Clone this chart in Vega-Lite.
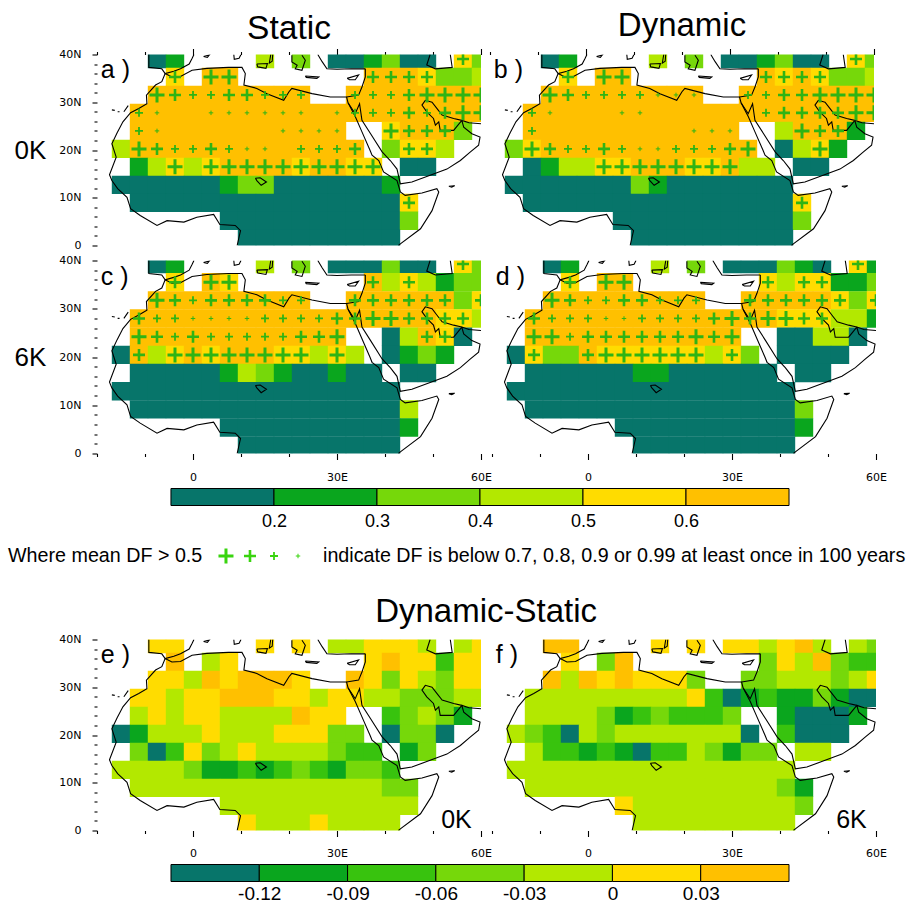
{"$schema":"https://vega.github.io/schema/vega-lite/v6.json","padding":{"left":8,"top":9.5,"right":0,"bottom":0},"background":"white",
"config":{"view":{"stroke":null},"font":"Liberation Sans","axis":{"labelFont":"DejaVu Sans","labelFontSize":11,"labelColor":"black","tickColor":"black","tickWidth":1.1,"domain":false,"grid":false,"title":null,"labelOverlap":false,"labelBound":false,"labelFlush":false,"titleFont":"Liberation Sans"},"title":{"font":"Liberation Sans","fontWeight":"normal","fontSize":33,"color":"black","anchor":"middle"},"text":{"font":"Liberation Sans","fontSize":25,"color":"black"}},
"datasets":{
"grid":[
{"lon":-7.5,"lat":39.06,"a":0.15,"b":0.15,"c":0.15,"d":0.15,"e":0.015,"f":0.045},
{"lon":-3.75,"lat":39.06,"a":0.25,"b":0.25,"c":0.25,"d":0.25,"e":0.015,"f":0.045},
{"lon":15,"lat":39.06,"a":0.45,"b":0.45,"c":0.45,"d":0.45,"e":0.015,"f":0.015},
{"lon":22.5,"lat":39.06,"a":0.35,"b":0.35,"c":0.35,"d":0.35,"e":0.015,"f":0.015},
{"lon":30,"lat":39.06,"a":0.15,"b":0.15,"c":0.15,"d":0.15,"e":-0.015,"f":0.015},
{"lon":33.75,"lat":39.06,"a":0.15,"b":0.15,"c":0.15,"d":0.15,"e":-0.015,"f":0.015},
{"lon":37.5,"lat":39.06,"a":0.25,"b":0.25,"c":0.15,"d":0.15,"e":0.015,"f":-0.015},
{"lon":41.25,"lat":39.06,"a":0.35,"b":0.35,"c":0.35,"d":0.35,"e":0.015,"f":0.015},
{"lon":45,"lat":39.06,"a":0.15,"b":0.15,"c":0.15,"d":0.25,"e":0.015,"f":0.045},
{"lon":48.75,"lat":39.06,"a":0.15,"b":0.15,"c":0.15,"d":0.15,"e":-0.015,"f":-0.015},
{"lon":56.25,"lat":39.06,"a":0.55,"b":0.55,"c":0.55,"d":0.55,"pa":2,"pb":2,"pc":2,"pd":2,"e":-0.015,"f":-0.015},
{"lon":60,"lat":39.06,"a":0.35,"b":0.35,"c":0.35,"d":0.25,"e":0.015,"f":-0.045},
{"lon":-3.75,"lat":35.3,"a":0.55,"b":0.55,"c":0.55,"d":0.55,"pa":2,"pb":2,"pc":2,"pd":2,"e":0.045,"f":0.015},
{"lon":3.75,"lat":35.3,"a":0.65,"b":0.65,"c":0.65,"d":0.65,"pa":1,"pb":1,"pc":1,"pd":1,"e":-0.015,"f":-0.045},
{"lon":7.5,"lat":35.3,"a":0.65,"b":0.65,"c":0.55,"d":0.65,"pa":1,"pb":1,"pc":1,"pd":1,"e":0.015,"f":0.045},
{"lon":37.5,"lat":35.3,"a":0.65,"b":0.65,"c":0.65,"d":0.55,"pa":2,"pb":2,"pc":2,"pd":2,"e":0.015,"f":-0.045},
{"lon":41.25,"lat":35.3,"a":0.65,"b":0.55,"c":0.45,"d":0.45,"pa":2,"pb":2,"e":0.045,"f":0.015},
{"lon":45,"lat":35.3,"a":0.65,"b":0.65,"c":0.55,"d":0.55,"pa":2,"pb":2,"pc":2,"pd":2,"e":0.015,"f":-0.015},
{"lon":48.75,"lat":35.3,"a":0.55,"b":0.55,"c":0.45,"d":0.55,"pa":2,"pb":2,"pd":2,"e":0.015,"f":0.045},
{"lon":52.5,"lat":35.3,"a":0.35,"b":0.35,"c":0.25,"d":0.25,"e":-0.075,"f":-0.045},
{"lon":56.25,"lat":35.3,"a":0.35,"b":0.35,"c":0.35,"d":0.25,"e":0.015,"f":-0.075},
{"lon":60,"lat":35.3,"a":0.45,"b":0.45,"c":0.35,"d":0.35,"e":0.015,"f":-0.075},
{"lon":-7.5,"lat":31.53,"a":0.65,"b":0.65,"c":0.65,"d":0.65,"pa":1,"pb":1,"pc":1,"pd":1,"e":0.015,"f":0.045},
{"lon":-3.75,"lat":31.53,"a":0.65,"b":0.65,"c":0.65,"d":0.65,"pa":2,"pb":2,"pc":2,"pd":2,"e":0.015,"f":-0.015},
{"lon":0,"lat":31.53,"a":0.65,"b":0.65,"c":0.65,"d":0.65,"pa":3,"pb":3,"pc":3,"pd":3,"e":-0.015,"f":0.045},
{"lon":3.75,"lat":31.53,"a":0.65,"b":0.65,"c":0.65,"d":0.65,"pa":3,"pb":3,"pc":2,"pd":3,"e":0.045,"f":0.015},
{"lon":7.5,"lat":31.53,"a":0.65,"b":0.65,"c":0.65,"d":0.65,"pa":2,"pb":3,"pc":2,"pd":2,"e":0.015,"f":0.045},
{"lon":11.25,"lat":31.53,"a":0.65,"b":0.65,"c":0.65,"d":0.65,"pa":2,"pb":3,"pc":2,"pd":2,"e":0.045,"f":0.015},
{"lon":15,"lat":31.53,"a":0.65,"b":0.65,"c":0.65,"d":0.65,"pa":3,"pb":4,"pc":2,"pd":3,"e":0.045,"f":0.015},
{"lon":18.75,"lat":31.53,"a":0.65,"b":0.65,"c":0.65,"d":0.65,"pa":3,"pb":4,"pc":3,"pd":3,"e":0.045,"f":0.015},
{"lon":22.5,"lat":31.53,"a":0.65,"b":0.65,"c":0.65,"d":0.65,"pa":3,"pb":4,"pc":3,"pd":3,"e":0.015,"f":-0.045},
{"lon":33.75,"lat":31.53,"a":0.65,"b":0.65,"c":0.65,"d":0.65,"pa":3,"pb":3,"pc":2,"pd":2,"e":0.045,"f":-0.045},
{"lon":37.5,"lat":31.53,"a":0.65,"b":0.65,"c":0.65,"d":0.65,"pa":3,"pb":3,"pc":2,"pd":2,"e":0.015,"f":-0.045},
{"lon":41.25,"lat":31.53,"a":0.65,"b":0.65,"c":0.65,"d":0.65,"pa":3,"pb":2,"pc":2,"pd":2,"e":-0.045,"f":-0.015},
{"lon":45,"lat":31.53,"a":0.65,"b":0.65,"c":0.65,"d":0.65,"pa":2,"pb":2,"pc":2,"pd":2,"e":0.015,"f":-0.015},
{"lon":48.75,"lat":31.53,"a":0.65,"b":0.65,"c":0.65,"d":0.65,"pa":1,"pb":1,"pc":2,"pd":2,"e":-0.015,"f":-0.015},
{"lon":52.5,"lat":31.53,"a":0.65,"b":0.65,"c":0.65,"d":0.55,"pa":1,"pb":1,"pc":2,"pd":2,"e":-0.045,"f":-0.045},
{"lon":56.25,"lat":31.53,"a":0.65,"b":0.65,"c":0.35,"d":0.35,"pa":1,"pb":1,"e":0.015,"f":-0.015},
{"lon":60,"lat":31.53,"a":0.65,"b":0.65,"c":0.55,"d":0.55,"pa":1,"pb":1,"pc":2,"pd":2,"e":0.015,"f":0.015},
{"lon":-11.25,"lat":27.78,"a":0.65,"b":0.65,"c":0.65,"d":0.65,"pa":3,"pb":3,"pc":2,"pd":2,"e":0.015,"f":-0.015},
{"lon":-7.5,"lat":27.78,"a":0.65,"b":0.65,"c":0.65,"d":0.65,"pa":4,"pb":4,"pc":3,"pd":3,"e":0.015,"f":-0.015},
{"lon":-3.75,"lat":27.78,"a":0.65,"b":0.65,"c":0.65,"d":0.65,"pc":3,"pd":3,"e":-0.015,"f":-0.015},
{"lon":0,"lat":27.78,"a":0.65,"b":0.65,"c":0.65,"d":0.65,"pc":4,"pd":3,"e":0.015,"f":-0.015},
{"lon":3.75,"lat":27.78,"a":0.65,"b":0.65,"c":0.65,"d":0.65,"pa":4,"pc":4,"pd":4,"e":0.015,"f":-0.015},
{"lon":7.5,"lat":27.78,"a":0.65,"b":0.65,"c":0.65,"d":0.65,"pa":4,"pb":4,"pc":4,"pd":4,"e":0.045,"f":-0.015},
{"lon":11.25,"lat":27.78,"a":0.65,"b":0.65,"c":0.65,"d":0.65,"pa":4,"pb":4,"pc":4,"pd":3,"e":0.045,"f":-0.015},
{"lon":15,"lat":27.78,"a":0.65,"b":0.65,"c":0.65,"d":0.65,"pa":4,"pc":3,"pd":3,"e":0.045,"f":-0.015},
{"lon":18.75,"lat":27.78,"a":0.65,"b":0.65,"c":0.65,"d":0.65,"pa":4,"pc":3,"pd":3,"e":0.015,"f":-0.015},
{"lon":22.5,"lat":27.78,"a":0.65,"b":0.65,"c":0.65,"d":0.65,"pa":4,"pc":3,"pd":3,"e":0.015,"f":0.015},
{"lon":26.25,"lat":27.78,"a":0.65,"b":0.65,"c":0.65,"d":0.65,"pc":3,"pd":2,"e":-0.015,"f":-0.075},
{"lon":30,"lat":27.78,"a":0.65,"b":0.65,"c":0.65,"d":0.65,"pa":4,"pc":2,"pd":1,"e":0.015,"f":-0.135},
{"lon":33.75,"lat":27.78,"a":0.65,"b":0.65,"c":0.65,"d":0.65,"pa":3,"pc":2,"pd":2,"e":0.015,"f":-0.105},
{"lon":37.5,"lat":27.78,"a":0.65,"b":0.65,"c":0.65,"d":0.65,"pa":3,"pb":3,"pc":1,"pd":1,"e":-0.015,"f":-0.075},
{"lon":41.25,"lat":27.78,"a":0.65,"b":0.65,"c":0.65,"d":0.55,"pa":3,"pb":2,"pc":1,"pd":1,"e":-0.015,"f":-0.105},
{"lon":45,"lat":27.78,"a":0.65,"b":0.65,"c":0.65,"d":0.55,"pa":2,"pb":2,"pc":2,"pd":2,"e":-0.045,"f":-0.105},
{"lon":48.75,"lat":27.78,"a":0.65,"b":0.65,"c":0.65,"d":0.55,"pa":3,"pb":2,"pc":2,"pd":2,"e":-0.045,"f":-0.045},
{"lon":52.5,"lat":27.78,"a":0.65,"b":0.65,"c":0.55,"d":0.45,"pa":2,"pb":2,"pc":2,"e":-0.045,"f":-0.105},
{"lon":56.25,"lat":27.78,"a":0.65,"b":0.65,"c":0.55,"d":0.45,"pa":1,"pb":1,"pc":2,"e":-0.015,"f":-0.135},
{"lon":60,"lat":27.78,"a":0.65,"b":0.65,"c":0.45,"d":0.25,"pa":1,"pb":1,"e":-0.015,"f":-0.135},
{"lon":-11.25,"lat":24,"a":0.65,"b":0.65,"c":0.65,"d":0.65,"pa":3,"pb":3,"pc":1,"pd":1,"e":-0.015,"f":-0.015},
{"lon":-7.5,"lat":24,"a":0.65,"b":0.65,"c":0.65,"d":0.65,"pa":4,"pc":2,"pd":1,"e":0.015,"f":-0.015},
{"lon":-3.75,"lat":24,"a":0.65,"b":0.65,"c":0.65,"d":0.65,"pc":3,"pd":3,"e":-0.015,"f":-0.015},
{"lon":0,"lat":24,"a":0.65,"b":0.65,"c":0.65,"d":0.65,"pc":2,"pd":2,"e":0.015,"f":-0.015},
{"lon":3.75,"lat":24,"a":0.65,"b":0.65,"c":0.65,"d":0.65,"pc":3,"pd":2,"e":0.015,"f":-0.045},
{"lon":7.5,"lat":24,"a":0.65,"b":0.65,"c":0.65,"d":0.65,"pc":3,"pd":2,"e":-0.015,"f":-0.105},
{"lon":11.25,"lat":24,"a":0.65,"b":0.65,"c":0.65,"d":0.65,"pc":3,"pd":2,"e":-0.015,"f":-0.075},
{"lon":15,"lat":24,"a":0.65,"b":0.65,"c":0.65,"d":0.65,"pc":3,"pd":2,"e":-0.015,"f":-0.045},
{"lon":18.75,"lat":24,"a":0.65,"b":0.65,"c":0.65,"d":0.65,"pa":4,"pc":3,"pd":2,"e":-0.015,"f":-0.075},
{"lon":22.5,"lat":24,"a":0.65,"b":0.65,"c":0.65,"d":0.65,"pa":4,"pb":4,"pc":2,"pd":1,"e":0.045,"f":-0.075},
{"lon":26.25,"lat":24,"a":0.65,"b":0.65,"c":0.65,"d":0.65,"pa":4,"pb":4,"pc":2,"pd":2,"e":0.015,"f":-0.075},
{"lon":30,"lat":24,"a":0.65,"b":0.65,"c":0.65,"d":0.65,"pa":4,"pb":4,"pc":1,"pd":1,"e":0.015,"f":-0.045},
{"lon":41.25,"lat":24,"a":0.55,"b":0.45,"c":0.15,"d":0.15,"pa":1,"e":-0.075,"f":-0.105},
{"lon":45,"lat":24,"a":0.65,"b":0.65,"c":0.45,"d":0.15,"pa":2,"pb":1,"e":-0.045,"f":-0.135},
{"lon":48.75,"lat":24,"a":0.65,"b":0.65,"c":0.65,"d":0.45,"pa":2,"pb":2,"pc":2,"e":-0.015,"f":-0.135},
{"lon":52.5,"lat":24,"a":0.65,"b":0.65,"c":0.55,"d":0.45,"pa":2,"pb":2,"pc":2,"e":-0.045,"f":-0.135},
{"lon":56.25,"lat":24,"a":0.35,"b":0.25,"c":0.15,"d":0.15,"e":-0.105,"f":-0.105},
{"lon":-15,"lat":20.23,"a":0.45,"b":0.35,"c":0.15,"d":0.15,"e":-0.135,"f":-0.015},
{"lon":-11.25,"lat":20.23,"a":0.65,"b":0.55,"c":0.65,"d":0.55,"pa":1,"pb":1,"pc":2,"pd":2,"e":-0.105,"f":-0.045},
{"lon":-7.5,"lat":20.23,"a":0.65,"b":0.65,"c":0.45,"d":0.35,"pa":2,"pb":2,"e":-0.015,"f":-0.075},
{"lon":-3.75,"lat":20.23,"a":0.65,"b":0.65,"c":0.55,"d":0.35,"pa":3,"pb":3,"pc":1,"e":-0.015,"f":-0.135},
{"lon":0,"lat":20.23,"a":0.65,"b":0.65,"c":0.65,"d":0.65,"pa":3,"pb":3,"pc":1,"pd":2,"e":-0.015,"f":-0.015},
{"lon":3.75,"lat":20.23,"a":0.65,"b":0.65,"c":0.55,"d":0.55,"pa":2,"pb":2,"pc":1,"pd":1,"e":0.015,"f":-0.045},
{"lon":7.5,"lat":20.23,"a":0.65,"b":0.65,"c":0.65,"d":0.55,"pa":3,"pb":3,"pc":1,"pd":1,"e":-0.015,"f":-0.015},
{"lon":11.25,"lat":20.23,"a":0.65,"b":0.65,"c":0.65,"d":0.55,"pa":4,"pb":4,"pc":1,"pd":1,"e":-0.015,"f":-0.015},
{"lon":15,"lat":20.23,"a":0.65,"b":0.65,"c":0.65,"d":0.55,"pa":4,"pb":4,"pc":1,"pd":1,"e":-0.015,"f":-0.015},
{"lon":18.75,"lat":20.23,"a":0.65,"b":0.65,"c":0.55,"d":0.55,"pb":3,"pc":1,"pd":1,"e":0.015,"f":-0.015},
{"lon":22.5,"lat":20.23,"a":0.65,"b":0.65,"c":0.55,"d":0.55,"pa":3,"pb":3,"pc":1,"pd":1,"e":0.015,"f":-0.015},
{"lon":26.25,"lat":20.23,"a":0.65,"b":0.65,"c":0.45,"d":0.45,"pa":3,"pb":3,"e":0.015,"f":-0.015},
{"lon":30,"lat":20.23,"a":0.65,"b":0.65,"c":0.55,"d":0.55,"pa":3,"pb":2,"pc":1,"pd":2,"e":-0.045,"f":-0.015},
{"lon":33.75,"lat":20.23,"a":0.65,"b":0.65,"c":0.45,"d":0.35,"pa":2,"pb":1,"e":-0.045,"f":-0.135},
{"lon":41.25,"lat":20.23,"a":0.35,"b":0.15,"c":0.15,"d":0.15,"e":-0.135,"f":-0.075},
{"lon":45,"lat":20.23,"a":0.55,"b":0.45,"c":0.25,"d":0.15,"pa":2,"e":-0.045,"f":-0.135},
{"lon":48.75,"lat":20.23,"a":0.55,"b":0.55,"c":0.35,"d":0.15,"pa":2,"pb":1,"e":-0.045,"f":-0.135},
{"lon":52.5,"lat":20.23,"a":0.45,"b":0.25,"c":0.25,"d":0.15,"e":-0.135,"f":-0.135},
{"lon":-11.25,"lat":16.47,"a":0.25,"b":0.15,"c":0.15,"d":0.15,"e":-0.045,"f":-0.015},
{"lon":-7.5,"lat":16.47,"a":0.45,"b":0.25,"c":0.15,"d":0.15,"e":-0.135,"f":-0.075},
{"lon":-3.75,"lat":16.47,"a":0.55,"b":0.45,"c":0.15,"d":0.15,"pa":1,"e":-0.075,"f":-0.075},
{"lon":0,"lat":16.47,"a":0.45,"b":0.45,"c":0.15,"d":0.15,"e":0.015,"f":-0.105},
{"lon":3.75,"lat":16.47,"a":0.55,"b":0.55,"c":0.15,"d":0.15,"pa":1,"pb":1,"e":-0.045,"f":-0.075},
{"lon":7.5,"lat":16.47,"a":0.65,"b":0.55,"c":0.25,"d":0.15,"pa":1,"pb":1,"e":-0.015,"f":-0.105},
{"lon":11.25,"lat":16.47,"a":0.65,"b":0.65,"c":0.45,"d":0.25,"pa":1,"pb":1,"e":0.015,"f":-0.135},
{"lon":15,"lat":16.47,"a":0.65,"b":0.65,"c":0.35,"d":0.25,"pa":1,"pb":1,"e":-0.015,"f":-0.075},
{"lon":18.75,"lat":16.47,"a":0.65,"b":0.65,"c":0.25,"d":0.15,"pa":1,"pb":1,"e":-0.015,"f":-0.075},
{"lon":22.5,"lat":16.47,"a":0.55,"b":0.55,"c":0.15,"d":0.15,"pa":1,"pb":1,"e":-0.015,"f":-0.015},
{"lon":26.25,"lat":16.47,"a":0.65,"b":0.55,"c":0.15,"d":0.15,"pa":1,"pb":1,"e":-0.015,"f":-0.045},
{"lon":30,"lat":16.47,"a":0.65,"b":0.65,"c":0.25,"d":0.15,"pa":1,"pb":1,"e":-0.045,"f":-0.105},
{"lon":33.75,"lat":16.47,"a":0.55,"b":0.45,"c":0.15,"d":0.15,"pa":1,"e":-0.075,"f":-0.045},
{"lon":37.5,"lat":16.47,"a":0.55,"b":0.45,"c":0.15,"d":0.15,"pa":1,"e":-0.075,"f":-0.045},
{"lon":45,"lat":16.47,"a":0.15,"b":0.15,"c":0.15,"d":0.15,"e":-0.105,"f":-0.015},
{"lon":48.75,"lat":16.47,"a":0.15,"b":0.15,"c":0.15,"d":0.15,"e":-0.045,"f":-0.015},
{"lon":-15,"lat":12.7,"a":0.15,"b":0.15,"c":0.15,"d":0.15,"e":-0.015,"f":-0.015},
{"lon":-11.25,"lat":12.7,"a":0.15,"b":0.15,"c":0.15,"d":0.15,"e":-0.015,"f":-0.015},
{"lon":-7.5,"lat":12.7,"a":0.15,"b":0.15,"c":0.15,"d":0.15,"e":-0.015,"f":-0.015},
{"lon":-3.75,"lat":12.7,"a":0.15,"b":0.15,"c":0.15,"d":0.15,"e":-0.015,"f":-0.015},
{"lon":0,"lat":12.7,"a":0.15,"b":0.15,"c":0.15,"d":0.15,"e":-0.045,"f":-0.015},
{"lon":3.75,"lat":12.7,"a":0.15,"b":0.15,"c":0.15,"d":0.15,"e":-0.105,"f":-0.015},
{"lon":7.5,"lat":12.7,"a":0.25,"b":0.15,"c":0.15,"d":0.15,"e":-0.105,"f":-0.015},
{"lon":11.25,"lat":12.7,"a":0.35,"b":0.35,"c":0.15,"d":0.15,"e":-0.075,"f":-0.015},
{"lon":15,"lat":12.7,"a":0.35,"b":0.25,"c":0.15,"d":0.15,"e":-0.105,"f":-0.015},
{"lon":18.75,"lat":12.7,"a":0.15,"b":0.15,"c":0.15,"d":0.15,"e":-0.075,"f":-0.015},
{"lon":22.5,"lat":12.7,"a":0.15,"b":0.15,"c":0.15,"d":0.15,"e":-0.045,"f":-0.015},
{"lon":26.25,"lat":12.7,"a":0.15,"b":0.15,"c":0.15,"d":0.15,"e":-0.075,"f":-0.015},
{"lon":30,"lat":12.7,"a":0.15,"b":0.15,"c":0.15,"d":0.15,"e":-0.105,"f":-0.015},
{"lon":33.75,"lat":12.7,"a":0.15,"b":0.15,"c":0.15,"d":0.15,"e":-0.045,"f":-0.015},
{"lon":37.5,"lat":12.7,"a":0.15,"b":0.15,"c":0.15,"d":0.15,"e":-0.045,"f":-0.015},
{"lon":41.25,"lat":12.7,"a":0.25,"b":0.15,"c":0.15,"d":0.15,"e":-0.075,"f":-0.015},
{"lon":-11.25,"lat":8.93,"a":0.15,"b":0.15,"c":0.15,"d":0.15,"e":-0.015,"f":-0.015},
{"lon":-7.5,"lat":8.93,"a":0.15,"b":0.15,"c":0.15,"d":0.15,"e":-0.015,"f":-0.015},
{"lon":-3.75,"lat":8.93,"a":0.15,"b":0.15,"c":0.15,"d":0.15,"e":-0.015,"f":-0.015},
{"lon":0,"lat":8.93,"a":0.15,"b":0.15,"c":0.15,"d":0.15,"e":-0.015,"f":-0.015},
{"lon":3.75,"lat":8.93,"a":0.15,"b":0.15,"c":0.15,"d":0.15,"e":-0.015,"f":-0.015},
{"lon":7.5,"lat":8.93,"a":0.15,"b":0.15,"c":0.15,"d":0.15,"e":-0.015,"f":-0.015},
{"lon":11.25,"lat":8.93,"a":0.15,"b":0.15,"c":0.15,"d":0.15,"e":-0.015,"f":-0.015},
{"lon":15,"lat":8.93,"a":0.15,"b":0.15,"c":0.15,"d":0.15,"e":-0.015,"f":-0.015},
{"lon":18.75,"lat":8.93,"a":0.15,"b":0.15,"c":0.15,"d":0.15,"e":-0.015,"f":-0.015},
{"lon":22.5,"lat":8.93,"a":0.15,"b":0.15,"c":0.15,"d":0.15,"e":-0.015,"f":-0.015},
{"lon":26.25,"lat":8.93,"a":0.15,"b":0.15,"c":0.15,"d":0.15,"e":-0.015,"f":-0.015},
{"lon":30,"lat":8.93,"a":0.15,"b":0.15,"c":0.15,"d":0.15,"e":-0.015,"f":-0.015},
{"lon":33.75,"lat":8.93,"a":0.15,"b":0.15,"c":0.15,"d":0.15,"e":-0.015,"f":-0.015},
{"lon":37.5,"lat":8.93,"a":0.15,"b":0.15,"c":0.15,"d":0.15,"e":-0.015,"f":-0.015},
{"lon":41.25,"lat":8.93,"a":0.15,"b":0.15,"c":0.15,"d":0.15,"e":-0.045,"f":-0.045},
{"lon":45,"lat":8.93,"a":0.55,"b":0.55,"c":0.45,"d":0.35,"pa":2,"pb":2,"e":-0.045,"f":-0.105},
{"lon":7.5,"lat":5.17,"a":0.15,"b":0.15,"c":0.15,"d":0.15,"e":-0.015,"f":0.015},
{"lon":11.25,"lat":5.17,"a":0.15,"b":0.15,"c":0.15,"d":0.15,"e":-0.015,"f":-0.015},
{"lon":15,"lat":5.17,"a":0.15,"b":0.15,"c":0.15,"d":0.15,"e":-0.015,"f":-0.015},
{"lon":18.75,"lat":5.17,"a":0.15,"b":0.15,"c":0.15,"d":0.15,"e":-0.015,"f":-0.015},
{"lon":22.5,"lat":5.17,"a":0.15,"b":0.15,"c":0.15,"d":0.15,"e":-0.015,"f":-0.015},
{"lon":26.25,"lat":5.17,"a":0.15,"b":0.15,"c":0.15,"d":0.15,"e":-0.015,"f":-0.015},
{"lon":30,"lat":5.17,"a":0.15,"b":0.15,"c":0.15,"d":0.15,"e":-0.015,"f":-0.015},
{"lon":33.75,"lat":5.17,"a":0.15,"b":0.15,"c":0.15,"d":0.15,"e":-0.015,"f":-0.015},
{"lon":37.5,"lat":5.17,"a":0.15,"b":0.15,"c":0.15,"d":0.15,"e":-0.015,"f":-0.015},
{"lon":41.25,"lat":5.17,"a":0.15,"b":0.15,"c":0.15,"d":0.15,"e":-0.015,"f":-0.015},
{"lon":45,"lat":5.17,"a":0.35,"b":0.35,"c":0.25,"d":0.25,"e":-0.015,"f":-0.045},
{"lon":11.25,"lat":1.4,"a":0.15,"b":0.15,"c":0.15,"d":0.15,"e":0.015,"f":-0.015},
{"lon":15,"lat":1.4,"a":0.15,"b":0.15,"c":0.15,"d":0.15,"e":-0.015,"f":-0.015},
{"lon":18.75,"lat":1.4,"a":0.15,"b":0.15,"c":0.15,"d":0.15,"e":-0.015,"f":-0.015},
{"lon":22.5,"lat":1.4,"a":0.15,"b":0.15,"c":0.15,"d":0.15,"e":-0.015,"f":-0.015},
{"lon":26.25,"lat":1.4,"a":0.15,"b":0.15,"c":0.15,"d":0.15,"e":0.015,"f":-0.015},
{"lon":30,"lat":1.4,"a":0.15,"b":0.15,"c":0.15,"d":0.15,"e":-0.015,"f":-0.015},
{"lon":33.75,"lat":1.4,"a":0.15,"b":0.15,"c":0.15,"d":0.15,"e":-0.015,"f":-0.015},
{"lon":37.5,"lat":1.4,"a":0.15,"b":0.15,"c":0.15,"d":0.15,"e":-0.015,"f":-0.015},
{"lon":41.25,"lat":1.4,"a":0.15,"b":0.15,"c":0.15,"d":0.15,"e":-0.015,"f":-0.015}
],
"coast":[
{"s":1,"lon":9.2,"lat":0},{"s":1,"lon":9.9,"lat":3.1},{"s":1,"lon":8.8,"lat":4.2},{"s":1,"lon":5.6,"lat":4.4},{"s":1,"lon":4.3,"lat":6.5},{"s":1,"lon":0.8,"lat":5.9},{"s":1,"lon":-1.9,"lat":4.9},{"s":1,"lon":-5.4,"lat":5.2},{"s":1,"lon":-7.5,"lat":4.2},{"s":1,"lon":-11,"lat":6.3},{"s":1,"lon":-13,"lat":7.7},{"s":1,"lon":-13.75,"lat":10.1},{"s":1,"lon":-15.7,"lat":11.9},{"s":1,"lon":-16.9,"lat":13.6},{"s":1,"lon":-17.4,"lat":14.8},{"s":1,"lon":-16,"lat":18.5},{"s":1,"lon":-16.9,"lat":21.3},{"s":1,"lon":-15.8,"lat":23.6},{"s":1,"lon":-14.6,"lat":25.9},{"s":1,"lon":-13,"lat":27.8},{"s":1,"lon":-11.3,"lat":28.7},{"s":1,"lon":-9.6,"lat":29.7},{"s":1,"lon":-9.7,"lat":31.5},{"s":1,"lon":-7.8,"lat":33.6},{"s":1,"lon":-6.5,"lat":34.3},{"s":1,"lon":-5.8,"lat":36},{"s":1,"lon":-4.4,"lat":35.3},{"s":1,"lon":-2.6,"lat":35.4},{"s":1,"lon":-0.2,"lat":36.7},{"s":1,"lon":2.9,"lat":37.1},{"s":1,"lon":7.4,"lat":37.3},{"s":1,"lon":10.2,"lat":37.3},{"s":1,"lon":10.9,"lat":36},{"s":1,"lon":10.6,"lat":33.6},{"s":1,"lon":13.3,"lat":32.9},{"s":1,"lon":15.4,"lat":31.8},{"s":1,"lon":18.9,"lat":30.4},{"s":1,"lon":20,"lat":32.2},{"s":1,"lon":20.6,"lat":32.9},{"s":1,"lon":24.8,"lat":31.8},{"s":1,"lon":28.6,"lat":31.1},{"s":1,"lon":32,"lat":31.1},{"s":1,"lon":32.3,"lat":29.9},{"s":1,"lon":33.8,"lat":27},{"s":1,"lon":35.2,"lat":23.8},{"s":1,"lon":36.9,"lat":19.9},{"s":1,"lon":37.3,"lat":18.9},{"s":1,"lon":38.7,"lat":17.8},{"s":1,"lon":39.7,"lat":15.4},{"s":1,"lon":42.5,"lat":13.6},{"s":1,"lon":43.2,"lat":11.2},{"s":1,"lon":44.2,"lat":10.5},{"s":1,"lon":47.7,"lat":11},{"s":1,"lon":50.8,"lat":11.9},{"s":1,"lon":51.2,"lat":11.2},{"s":1,"lon":49.8,"lat":7.3},{"s":1,"lon":47.4,"lat":3.5},{"s":1,"lon":43.2,"lat":0.35},{"s":1,"lon":42.8,"lat":0},
{"s":2,"lon":35.9,"lat":37},{"s":2,"lon":35.9,"lat":35.3},{"s":2,"lon":35.2,"lat":33.2},{"s":2,"lon":34.5,"lat":31.5},{"s":2,"lon":32,"lat":31.1},
{"s":3,"lon":26,"lat":40},{"s":3,"lon":26.9,"lat":38.5},{"s":3,"lon":27.9,"lat":37},{"s":3,"lon":30,"lat":36.9},{"s":3,"lon":33,"lat":37},{"s":3,"lon":35.9,"lat":37},
{"s":4,"lon":32.3,"lat":29.9},{"s":4,"lon":33.8,"lat":27.6},{"s":4,"lon":34.7,"lat":29.7},{"s":4,"lon":35.2,"lat":26.2},{"s":4,"lon":37,"lat":23.4},{"s":4,"lon":39.4,"lat":19.6},{"s":4,"lon":41.1,"lat":17.8},{"s":4,"lon":42.5,"lat":16},{"s":4,"lon":43.2,"lat":12.9},{"s":4,"lon":45.6,"lat":13.3},{"s":4,"lon":49.4,"lat":14.7},{"s":4,"lon":52.9,"lat":16},{"s":4,"lon":55.7,"lat":17.8},{"s":4,"lon":57.8,"lat":19.6},{"s":4,"lon":59.5,"lat":21},{"s":4,"lon":59.8,"lat":22.7},{"s":4,"lon":58.1,"lat":23.4},{"s":4,"lon":56.4,"lat":24.8},{"s":4,"lon":56,"lat":26.2},{"s":4,"lon":54.3,"lat":24.1},{"s":4,"lon":51.5,"lat":24.1},{"s":4,"lon":51.2,"lat":25.9},{"s":4,"lon":50.5,"lat":25.2},{"s":4,"lon":50.1,"lat":26.6},{"s":4,"lon":48.7,"lat":28},{"s":4,"lon":47.7,"lat":29.4},{"s":4,"lon":48.4,"lat":30.4},{"s":4,"lon":49.8,"lat":30},{"s":4,"lon":50.8,"lat":28.7},{"s":4,"lon":51.9,"lat":27.3},{"s":4,"lon":54.3,"lat":26.6},{"s":4,"lon":56,"lat":26.2},{"s":4,"lon":57.5,"lat":25.7},{"s":4,"lon":60,"lat":25.5},
{"s":5,"lon":-9.2,"lat":40},{"s":5,"lon":-9.2,"lat":37.3},{"s":5,"lon":-6.5,"lat":37},{"s":5,"lon":-5.8,"lat":36},{"s":5,"lon":-4,"lat":36.5},{"s":5,"lon":-2.6,"lat":37},{"s":5,"lon":-0.8,"lat":38},{"s":5,"lon":-0.2,"lat":39.15},{"s":5,"lon":0.2,"lat":40},
{"s":6,"lon":16.2,"lat":40},{"s":6,"lon":15.9,"lat":38.2},{"s":6,"lon":16.5,"lat":38.6},{"s":6,"lon":16.6,"lat":40},
{"s":7,"lon":13.3,"lat":38},{"s":7,"lon":15.5,"lat":38.1},{"s":7,"lon":15.2,"lat":37.1},{"s":7,"lon":13.5,"lat":37.4},{"s":7,"lon":13.3,"lat":38},
{"s":8,"lon":8.5,"lat":40},{"s":8,"lon":8.6,"lat":39},{"s":8,"lon":9.6,"lat":39.2},{"s":8,"lon":10,"lat":40},
{"s":9,"lon":20.6,"lat":39.85},{"s":9,"lon":20.6,"lat":38.45},{"s":9,"lon":21.7,"lat":37.75},{"s":9,"lon":21.3,"lat":37},{"s":9,"lon":22.7,"lat":36.7},{"s":9,"lon":23.05,"lat":37.75},{"s":9,"lon":23.4,"lat":38.8},{"s":9,"lon":22.7,"lat":39.85},
{"s":10,"lon":23.4,"lat":35.5},{"s":10,"lon":26.2,"lat":35.3},{"s":10,"lon":25.8,"lat":35},{"s":10,"lon":23.6,"lat":35.2},{"s":10,"lon":23.4,"lat":35.5},
{"s":11,"lon":32.1,"lat":35},{"s":11,"lon":34.5,"lat":35.7},{"s":11,"lon":33.8,"lat":34.7},{"s":11,"lon":32.6,"lat":34.7},{"s":11,"lon":32.1,"lat":35},
{"s":12,"lon":2.2,"lat":39.6},{"s":12,"lon":3.4,"lat":39.9},{"s":12,"lon":3,"lat":39.4},{"s":12,"lon":2.2,"lat":39.6},
{"s":13,"lon":49.4,"lat":40},{"s":13,"lon":48.7,"lat":37.8},{"s":13,"lon":50.5,"lat":37},{"s":13,"lon":54,"lat":37.3},{"s":13,"lon":53.6,"lat":40},
{"s":14,"lon":13,"lat":14.1},{"s":14,"lon":14,"lat":14.2},{"s":14,"lon":15.3,"lat":13.3},{"s":14,"lon":14.2,"lat":12.6},{"s":14,"lon":13.3,"lat":13.6},{"s":14,"lon":13,"lat":14.1},
{"s":15,"lon":53.3,"lat":12.4},{"s":15,"lon":54.5,"lat":12.5},{"s":15,"lon":53.9,"lat":12.2},{"s":15,"lon":53.3,"lat":12.4},
{"s":16,"lon":-16.9,"lat":28.4},{"s":16,"lon":-16.3,"lat":28.3},{"s":16,"lon":-16.9,"lat":28.4},
{"s":17,"lon":-15.7,"lat":28},{"s":17,"lon":-15.3,"lat":28},{"s":17,"lon":-15.7,"lat":28},
{"s":18,"lon":-14.4,"lat":28},{"s":18,"lon":-13.5,"lat":29.3},{"s":18,"lon":-14.4,"lat":28}
],
"tags":[
{"a":"a )","b":"b )","c":"c )","d":"d )","lon":-19.2,"lat":35}
],
"cb1":[{"lo":0.1,"hi":0.2,"v":0.15},{"lo":0.2,"hi":0.3,"v":0.25},{"lo":0.3,"hi":0.4,"v":0.35},{"lo":0.4,"hi":0.5,"v":0.45},{"lo":0.5,"hi":0.6,"v":0.55},{"lo":0.6,"hi":0.7,"v":0.65}],
"cb2":[{"lo":-0.15,"hi":-0.12,"v":-0.135},{"lo":-0.12,"hi":-0.09,"v":-0.105},{"lo":-0.09,"hi":-0.06,"v":-0.075},{"lo":-0.06,"hi":-0.03,"v":-0.045},{"lo":-0.03,"hi":0,"v":-0.015},{"lo":0,"hi":0.03,"v":0.015},{"lo":0.03,"hi":0.06,"v":0.045}]
},
"spacing":5,
"resolve":{"scale":{"color":"independent"}},
"vconcat":[
{"spacing":4,"resolve":{"scale":{"color":"independent"}},"vconcat":[
{"spacing":7,"resolve":{"scale":{"color":"independent"}},"hconcat":[
{"width":384,"height":191,"title":{"text":"Static","fontSize":33.5,"offset":1},
"encoding":{"x":{"field":"lon","type":"quantitative","scale":{"domain":[-20,60],"nice":false,"zero":false},"axis":{"orient":"top","labels":false,"values":[-20,-10,0,10,20,30,40,50,60],"tickSize":{"condition":{"test":"datum.value%30==0","value":6},"value":3}}},"y":{"field":"lat","type":"quantitative","scale":{"domain":[0,40],"nice":false,"zero":false},"axis":{"values":[0,2,4,6,8,10,12,14,16,18,20,22,24,26,28,30,32,34,36,38,40],"labelExpr":"datum.value==0?'0':datum.value%10==0?datum.value+'N':''","labelPadding":11,"tickSize":{"condition":{"test":"datum.value%10==0","value":5},"value":3},"title":"0K","titleAngle":0,"titleFontSize":26,"titleFontWeight":"normal","titleX":-67,"titleBaseline":"middle","titleAlign":"center"}}},
"layer":[
{"data":{"name":"grid"},"transform":[{"filter":"isValid(datum.a)"}],"mark":{"type":"rect","width":18.4,"height":18.4,"clip":true},"encoding":{"color":{"field":"a","type":"quantitative","scale":{"type":"threshold","domain":[0.2,0.3,0.4,0.5,0.6],"range":["#07756a","#0aa61e","#76d80a","#b3e800","#ffdc00","#ffc000"]},"legend":null}}},
{"data":{"name":"coast"},"transform":[{"window":[{"op":"row_number","as":"i"}]}],"mark":{"type":"line","clip":true,"color":"black","strokeWidth":1.1},"encoding":{"detail":{"field":"s","type":"nominal"},"order":{"field":"i","type":"quantitative"}}},
{"data":{"name":"grid"},"transform":[{"filter":"isValid(datum.pa)"}],"mark":{"type":"point","shape":"M-1,0H1M0,-1V1","filled":false,"clip":true,"color":"#2fb414","opacity":1},"encoding":{"size":{"field":"pa","type":"quantitative","scale":{"type":"linear","zero":false,"domain":[1,2,3,4],"range":[225,144,64,20]},"legend":null},"strokeWidth":{"field":"pa","type":"quantitative","scale":{"type":"linear","zero":false,"domain":[1,2,3,4],"range":[3,2.6,1.8,1]},"legend":null}}},
{"data":{"values":[{"frame":1}]},"mark":{"type":"rect","fillOpacity":0,"stroke":"black","strokeWidth":2},"encoding":{"x":{"datum":-20},"x2":{"datum":60},"y":{"datum":0},"y2":{"datum":40}}},
{"data":{"name":"tags"},"mark":{"type":"text","align":"left","baseline":"alphabetic"},"encoding":{"text":{"field":"a"}}}
]},
{"width":384,"height":191,"title":{"text":"Dynamic","fontSize":33,"offset":5},
"encoding":{"x":{"field":"lon","type":"quantitative","scale":{"domain":[-20,60],"nice":false,"zero":false},"axis":{"orient":"top","labels":false,"values":[-20,-10,0,10,20,30,40,50,60],"tickSize":{"condition":{"test":"datum.value%30==0","value":6},"value":3}}},"y":{"field":"lat","type":"quantitative","scale":{"domain":[0,40],"nice":false,"zero":false},"axis":null}},
"layer":[
{"data":{"name":"grid"},"transform":[{"filter":"isValid(datum.b)"}],"mark":{"type":"rect","width":18.4,"height":18.4,"clip":true},"encoding":{"color":{"field":"b","type":"quantitative","scale":{"type":"threshold","domain":[0.2,0.3,0.4,0.5,0.6],"range":["#07756a","#0aa61e","#76d80a","#b3e800","#ffdc00","#ffc000"]},"legend":null}}},
{"data":{"name":"coast"},"transform":[{"window":[{"op":"row_number","as":"i"}]}],"mark":{"type":"line","clip":true,"color":"black","strokeWidth":1.1},"encoding":{"detail":{"field":"s","type":"nominal"},"order":{"field":"i","type":"quantitative"}}},
{"data":{"name":"grid"},"transform":[{"filter":"isValid(datum.pb)"}],"mark":{"type":"point","shape":"M-1,0H1M0,-1V1","filled":false,"clip":true,"color":"#2fb414","opacity":1},"encoding":{"size":{"field":"pb","type":"quantitative","scale":{"type":"linear","zero":false,"domain":[1,2,3,4],"range":[225,144,64,20]},"legend":null},"strokeWidth":{"field":"pb","type":"quantitative","scale":{"type":"linear","zero":false,"domain":[1,2,3,4],"range":[3,2.6,1.8,1]},"legend":null}}},
{"data":{"values":[{"frame":1}]},"mark":{"type":"rect","fillOpacity":0,"stroke":"black","strokeWidth":2},"encoding":{"x":{"datum":-20},"x2":{"datum":60},"y":{"datum":0},"y2":{"datum":40}}},
{"data":{"name":"tags"},"mark":{"type":"text","align":"left","baseline":"alphabetic"},"encoding":{"text":{"field":"b"}}}
]}
]},
{"spacing":-4,"resolve":{"scale":{"color":"independent"}},"hconcat":[
{"width":384,"height":193,
"encoding":{"x":{"field":"lon","type":"quantitative","scale":{"domain":[-20,60],"nice":false,"zero":false},"axis":{"values":[-20,-10,0,10,20,30,40,50,60],"labelExpr":"datum.value==0?'0':datum.value==30?'30E':datum.value==60?'60E':''","labelPadding":12,"tickSize":{"condition":{"test":"datum.value%30==0","value":6},"value":3}}},"y":{"field":"lat","type":"quantitative","scale":{"domain":[0,40],"nice":false,"zero":false},"axis":{"values":[0,2,4,6,8,10,12,14,16,18,20,22,24,26,28,30,32,34,36,38,40],"labelExpr":"datum.value==0?'0':datum.value%10==0?datum.value+'N':''","labelPadding":11,"tickSize":{"condition":{"test":"datum.value%10==0","value":5},"value":3},"title":"6K","titleAngle":0,"titleFontSize":26,"titleFontWeight":"normal","titleX":-67,"titleBaseline":"middle","titleAlign":"center"}}},
"layer":[
{"data":{"name":"grid"},"transform":[{"filter":"isValid(datum.c)"}],"mark":{"type":"rect","width":18.4,"height":18.4,"clip":true,"yOffset":-1},"encoding":{"color":{"field":"c","type":"quantitative","scale":{"type":"threshold","domain":[0.2,0.3,0.4,0.5,0.6],"range":["#07756a","#0aa61e","#76d80a","#b3e800","#ffdc00","#ffc000"]},"legend":null}}},
{"data":{"name":"coast"},"transform":[{"window":[{"op":"row_number","as":"i"}]}],"mark":{"type":"line","clip":true,"color":"black","strokeWidth":1.1},"encoding":{"detail":{"field":"s","type":"nominal"},"order":{"field":"i","type":"quantitative"}}},
{"data":{"name":"grid"},"transform":[{"filter":"isValid(datum.pc)"}],"mark":{"type":"point","shape":"M-1,0H1M0,-1V1","filled":false,"clip":true,"color":"#2fb414","opacity":1,"yOffset":-1},"encoding":{"size":{"field":"pc","type":"quantitative","scale":{"type":"linear","zero":false,"domain":[1,2,3,4],"range":[225,144,64,20]},"legend":null},"strokeWidth":{"field":"pc","type":"quantitative","scale":{"type":"linear","zero":false,"domain":[1,2,3,4],"range":[3,2.6,1.8,1]},"legend":null}}},
{"data":{"values":[{"frame":1}]},"mark":{"type":"rect","fillOpacity":0,"stroke":"black","strokeWidth":2},"encoding":{"x":{"datum":-20},"x2":{"datum":60},"y":{"datum":0},"y2":{"datum":40}}},
{"data":{"name":"tags"},"mark":{"type":"text","align":"left","baseline":"alphabetic"},"encoding":{"text":{"field":"c"}}}
]},
{"width":384,"height":193,
"encoding":{"x":{"field":"lon","type":"quantitative","scale":{"domain":[-20,60],"nice":false,"zero":false},"axis":{"values":[-20,-10,0,10,20,30,40,50,60],"labelExpr":"datum.value==0?'0':datum.value==30?'30E':datum.value==60?'60E':''","labelPadding":12,"tickSize":{"condition":{"test":"datum.value%30==0","value":6},"value":3}}},"y":{"field":"lat","type":"quantitative","scale":{"domain":[0,40],"nice":false,"zero":false},"axis":null}},
"layer":[
{"data":{"name":"grid"},"transform":[{"filter":"isValid(datum.d)"}],"mark":{"type":"rect","width":18.4,"height":18.4,"clip":true,"yOffset":-1},"encoding":{"color":{"field":"d","type":"quantitative","scale":{"type":"threshold","domain":[0.2,0.3,0.4,0.5,0.6],"range":["#07756a","#0aa61e","#76d80a","#b3e800","#ffdc00","#ffc000"]},"legend":null}}},
{"data":{"name":"coast"},"transform":[{"window":[{"op":"row_number","as":"i"}]}],"mark":{"type":"line","clip":true,"color":"black","strokeWidth":1.1},"encoding":{"detail":{"field":"s","type":"nominal"},"order":{"field":"i","type":"quantitative"}}},
{"data":{"name":"grid"},"transform":[{"filter":"isValid(datum.pd)"}],"mark":{"type":"point","shape":"M-1,0H1M0,-1V1","filled":false,"clip":true,"color":"#2fb414","opacity":1,"yOffset":-1},"encoding":{"size":{"field":"pd","type":"quantitative","scale":{"type":"linear","zero":false,"domain":[1,2,3,4],"range":[225,144,64,20]},"legend":null},"strokeWidth":{"field":"pd","type":"quantitative","scale":{"type":"linear","zero":false,"domain":[1,2,3,4],"range":[3,2.6,1.8,1]},"legend":null}}},
{"data":{"values":[{"frame":1}]},"mark":{"type":"rect","fillOpacity":0,"stroke":"black","strokeWidth":2},"encoding":{"x":{"datum":-20},"x2":{"datum":60},"y":{"datum":0},"y2":{"datum":40}}},
{"data":{"name":"tags"},"mark":{"type":"text","align":"left","baseline":"alphabetic"},"encoding":{"text":{"field":"d"}}}
]}
]}
]},
{"width":777,"height":17,"data":{"name":"cb1"},"mark":{"type":"rect","stroke":"black","strokeWidth":1},"encoding":{"x":{"field":"lo","type":"quantitative","scale":{"domain":[0.0282,0.7825],"nice":false,"zero":false},"axis":{"values":[0.2,0.3,0.4,0.5,0.6],"ticks":false,"labelFont":"Liberation Sans","labelFontSize":18,"labelPadding":7,"labelExpr":"datum.value+''"}},"x2":{"field":"hi"},"color":{"field":"v","type":"quantitative","scale":{"type":"threshold","domain":[0.2,0.3,0.4,0.5,0.6],"range":["#07756a","#0aa61e","#76d80a","#b3e800","#ffdc00","#ffc000"]},"legend":null}}},
{"width":777,"height":54.5,"data":{"values":[
{"pos":-11.45,"txt":"Where mean DF > 0.5"},
{"pos":29.09,"txt":"indicate DF is below 0.7, 0.8, 0.9 or 0.99 at least once in 100 years"},
{"pos":16.6,"mk":1},{"pos":19.69,"mk":2},{"pos":22.78,"mk":3},{"pos":25.87,"mk":4}
]},
"encoding":{"x":{"field":"pos","type":"quantitative","scale":{"domain":[0,100],"nice":false,"zero":false},"axis":null}},
"layer":[
{"transform":[{"filter":"isValid(datum.txt)"}],"mark":{"type":"text","align":"left","baseline":"middle","fontSize":19.7,"yOffset":-6.75},"encoding":{"text":{"field":"txt"}}},
{"transform":[{"filter":"isValid(datum.mk)"}],"mark":{"type":"point","shape":"M-1,0H1M0,-1V1","filled":false,"color":"#39d40f","opacity":1,"yOffset":-6.75},"encoding":{"size":{"field":"mk","type":"quantitative","scale":{"type":"linear","zero":false,"domain":[1,2,3,4],"range":[225,144,64,20]},"legend":null},"strokeWidth":{"field":"mk","type":"quantitative","scale":{"type":"linear","zero":false,"domain":[1,2,3,4],"range":[3,2.6,1.8,1]},"legend":null}}}
]},
{"title":{"text":"Dynamic-Static","fontSize":33,"offset":5,"dx":13.5},"spacing":-4,"resolve":{"scale":{"color":"independent"}},"hconcat":[
{"width":384,"height":191,
"encoding":{"x":{"field":"lon","type":"quantitative","scale":{"domain":[-20,60],"nice":false,"zero":false},"axis":{"values":[-20,-10,0,10,20,30,40,50,60],"labelExpr":"datum.value==0?'0':datum.value==30?'30E':datum.value==60?'60E':''","labelPadding":11,"tickSize":{"condition":{"test":"datum.value%30==0","value":6},"value":3}}},"y":{"field":"lat","type":"quantitative","scale":{"domain":[0,40],"nice":false,"zero":false},"axis":{"values":[0,2,4,6,8,10,12,14,16,18,20,22,24,26,28,30,32,34,36,38,40],"labelExpr":"datum.value==0?'0':datum.value%10==0?datum.value+'N':''","labelPadding":11,"tickSize":{"condition":{"test":"datum.value%10==0","value":5},"value":3}}}},
"layer":[
{"data":{"name":"grid"},"transform":[{"filter":"isValid(datum.e)"}],"mark":{"type":"rect","width":18.4,"height":18.4,"clip":true},"encoding":{"color":{"field":"e","type":"quantitative","scale":{"type":"threshold","domain":[-0.12,-0.09,-0.06,-0.03,0,0.03],"range":["#07756a","#0aa61e","#38c30e","#76d80a","#b3e800","#ffdc00","#ffc000"]},"legend":null}}},
{"data":{"name":"coast"},"transform":[{"window":[{"op":"row_number","as":"i"}]}],"mark":{"type":"line","clip":true,"color":"black","strokeWidth":1.1},"encoding":{"detail":{"field":"s","type":"nominal"},"order":{"field":"i","type":"quantitative"}}},
{"data":{"values":[{"frame":1}]},"mark":{"type":"rect","fillOpacity":0,"stroke":"black","strokeWidth":2},"encoding":{"x":{"datum":-20},"x2":{"datum":60},"y":{"datum":0},"y2":{"datum":40}}},
{"data":{"values":[{"t":"e )","lon":-19.2,"lat":35},{"t":"0K","lon":51.7,"lat":0.6}]},"mark":{"type":"text","align":"left","baseline":"alphabetic"},"encoding":{"text":{"field":"t"}}}
]},
{"width":384,"height":191,
"encoding":{"x":{"field":"lon","type":"quantitative","scale":{"domain":[-20,60],"nice":false,"zero":false},"axis":{"values":[-20,-10,0,10,20,30,40,50,60],"labelExpr":"datum.value==0?'0':datum.value==30?'30E':datum.value==60?'60E':''","labelPadding":11,"tickSize":{"condition":{"test":"datum.value%30==0","value":6},"value":3}}},"y":{"field":"lat","type":"quantitative","scale":{"domain":[0,40],"nice":false,"zero":false},"axis":null}},
"layer":[
{"data":{"name":"grid"},"transform":[{"filter":"isValid(datum.f)"}],"mark":{"type":"rect","width":18.4,"height":18.4,"clip":true},"encoding":{"color":{"field":"f","type":"quantitative","scale":{"type":"threshold","domain":[-0.12,-0.09,-0.06,-0.03,0,0.03],"range":["#07756a","#0aa61e","#38c30e","#76d80a","#b3e800","#ffdc00","#ffc000"]},"legend":null}}},
{"data":{"name":"coast"},"transform":[{"window":[{"op":"row_number","as":"i"}]}],"mark":{"type":"line","clip":true,"color":"black","strokeWidth":1.1},"encoding":{"detail":{"field":"s","type":"nominal"},"order":{"field":"i","type":"quantitative"}}},
{"data":{"values":[{"frame":1}]},"mark":{"type":"rect","fillOpacity":0,"stroke":"black","strokeWidth":2},"encoding":{"x":{"datum":-20},"x2":{"datum":60},"y":{"datum":0},"y2":{"datum":40}}},
{"data":{"values":[{"t":"f )","lon":-19.2,"lat":35},{"t":"6K","lon":51.7,"lat":0.6}]},"mark":{"type":"text","align":"left","baseline":"alphabetic"},"encoding":{"text":{"field":"t"}}}
]}
]},
{"width":777,"height":17,"data":{"name":"cb2"},"mark":{"type":"rect","stroke":"black","strokeWidth":1},"encoding":{"x":{"field":"lo","type":"quantitative","scale":{"domain":[-0.17514,0.08888],"nice":false,"zero":false},"axis":{"values":[-0.12,-0.09,-0.06,-0.03,0,0.03],"ticks":false,"labelFont":"Liberation Sans","labelFontSize":19,"labelPadding":3,"labelExpr":"datum.value+''"}},"x2":{"field":"hi"},"color":{"field":"v","type":"quantitative","scale":{"type":"threshold","domain":[-0.12,-0.09,-0.06,-0.03,0,0.03],"range":["#07756a","#0aa61e","#38c30e","#76d80a","#b3e800","#ffdc00","#ffc000"]},"legend":null}}}
]}
